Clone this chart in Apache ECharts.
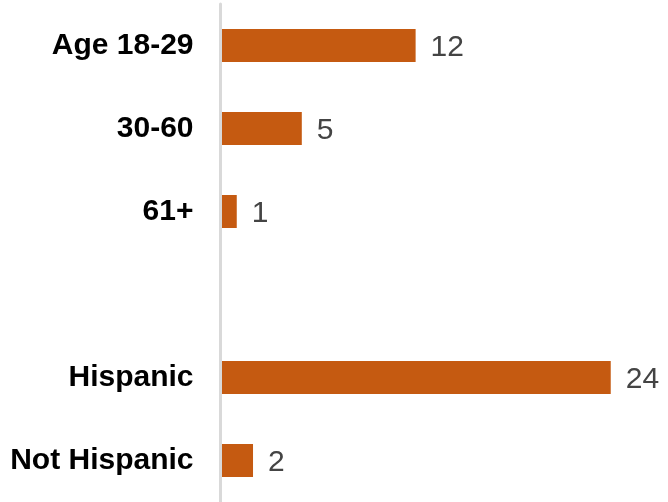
<!DOCTYPE html>
<html>
<head>
<meta charset="utf-8">
<style>
  html, body { margin: 0; padding: 0; background: #fff; }
  #chart { width: 668px; height: 502px; }
</style>
<script src="https://cdn.jsdelivr.net/npm/echarts@6/dist/echarts.min.js"></script>
</head>
<body>
<div id="chart"></div>
<script>
// Groups: age bands, a spacer row, then ethnicity
const categories = ['Age 18-29', '30-60', '61+', '', 'Hispanic', 'Not Hispanic'];
const values = [12, 5, 1, null, 24, 2];

const chart = echarts.init(document.getElementById('chart'), null, { renderer: 'canvas' });

chart.setOption({
  animation: false,
  backgroundColor: '#ffffff',
  grid: { left: 220.5, right: 41, top: 4, bottom: -3, containLabel: false },
  xAxis: {
    type: 'value',
    min: 0,
    max: 25,
    show: false
  },
  yAxis: {
    type: 'category',
    data: categories,
    inverse: true,
    z: 3,
    axisLine: { show: true, lineStyle: { color: '#d9d9d9', width: 3 } },
    axisTick: { show: false },
    axisLabel: {
      margin: 27,
      color: '#000000',
      fontFamily: 'Liberation Sans',
      fontWeight: 'bold',
      fontSize: 30,
      padding: [4, 0, 0, 0]
    },
    splitLine: { show: false }
  },
  series: [{
    type: 'bar',
    data: values,
    barWidth: 33,
    itemStyle: { color: '#C55A11' },
    label: {
      show: true,
      position: 'right',
      distance: 15,
      offset: [0, 2],
      color: '#444444',
      fontFamily: 'Liberation Sans',
      fontSize: 30
    }
  }]
});
</script>
</body>
</html>
